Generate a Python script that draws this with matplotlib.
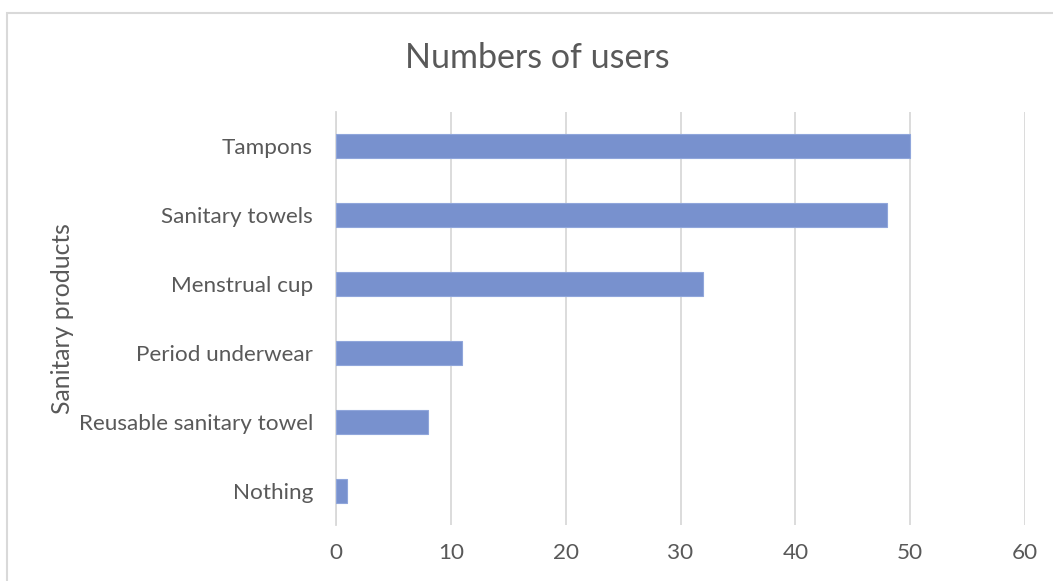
import matplotlib
matplotlib.use("Agg")
import matplotlib.pyplot as plt
from matplotlib.patches import Rectangle

categories = ["Tampons", "Sanitary towels", "Menstrual cup", "Period underwear",
              "Reusable sanitary towel", "Nothing"]
users = [50, 48, 32, 11, 8, 1]
x_ticks = [0, 10, 20, 30, 40, 50, 60]

plt.rcParams['font.family'] = ['Lato', 'DejaVu Sans']
text_color = '#595959'
grid_color = '#d9d9d9'

W, H, DPI = 1053, 581, 100
fig = plt.figure(figsize=(W / DPI, H / DPI), dpi=DPI)
fig.patch.set_facecolor('white')

# chart area border (cropped at right/bottom)
fig.patches.append(Rectangle((7 / W, -0.1), 1.2, 1 - 13 / H + 0.1,
                             transform=fig.transFigure, fill=False,
                             edgecolor=grid_color, linewidth=1.5))

ax = fig.add_axes([336 / W, 1 - 525 / H, (1025 - 336) / W, (525 - 112) / H])
ypos = list(range(len(categories)))
ax.barh(ypos, users, height=0.35, color='#7891CE', edgecolor='#90A6DB', linewidth=0.8, zorder=3)
ax.set_ylim(len(categories) - 0.5, -0.5)
ax.set_yticks(ypos)
ax.set_yticklabels(categories, fontsize=16.2, color=text_color)
ax.set_xlim(0, 60)
ax.set_xticks(x_ticks)
ax.set_xticklabels([str(v) for v in x_ticks], fontsize=16.2, color=text_color)
ax.tick_params(axis='both', length=0)
ax.tick_params(axis='y', pad=16.5)
ax.tick_params(axis='x', pad=13)
ax.grid(axis='x', color=grid_color, linewidth=1.3, zorder=0)
for s in ['top', 'right', 'bottom']:
    ax.spines[s].set_visible(False)
ax.spines['left'].set_color(grid_color)
ax.spines['left'].set_linewidth(1.3)

fig.text(62 / W, 1 - 319 / H, "Sanitary products", rotation=90, fontsize=17.8,
         color=text_color, ha='center', va='center')
fig.text(537 / W, 1 - 58 / H, "Numbers of users", fontsize=24.5,
         color=text_color, ha='center', va='center')

fig.savefig("out.png", dpi=DPI)
